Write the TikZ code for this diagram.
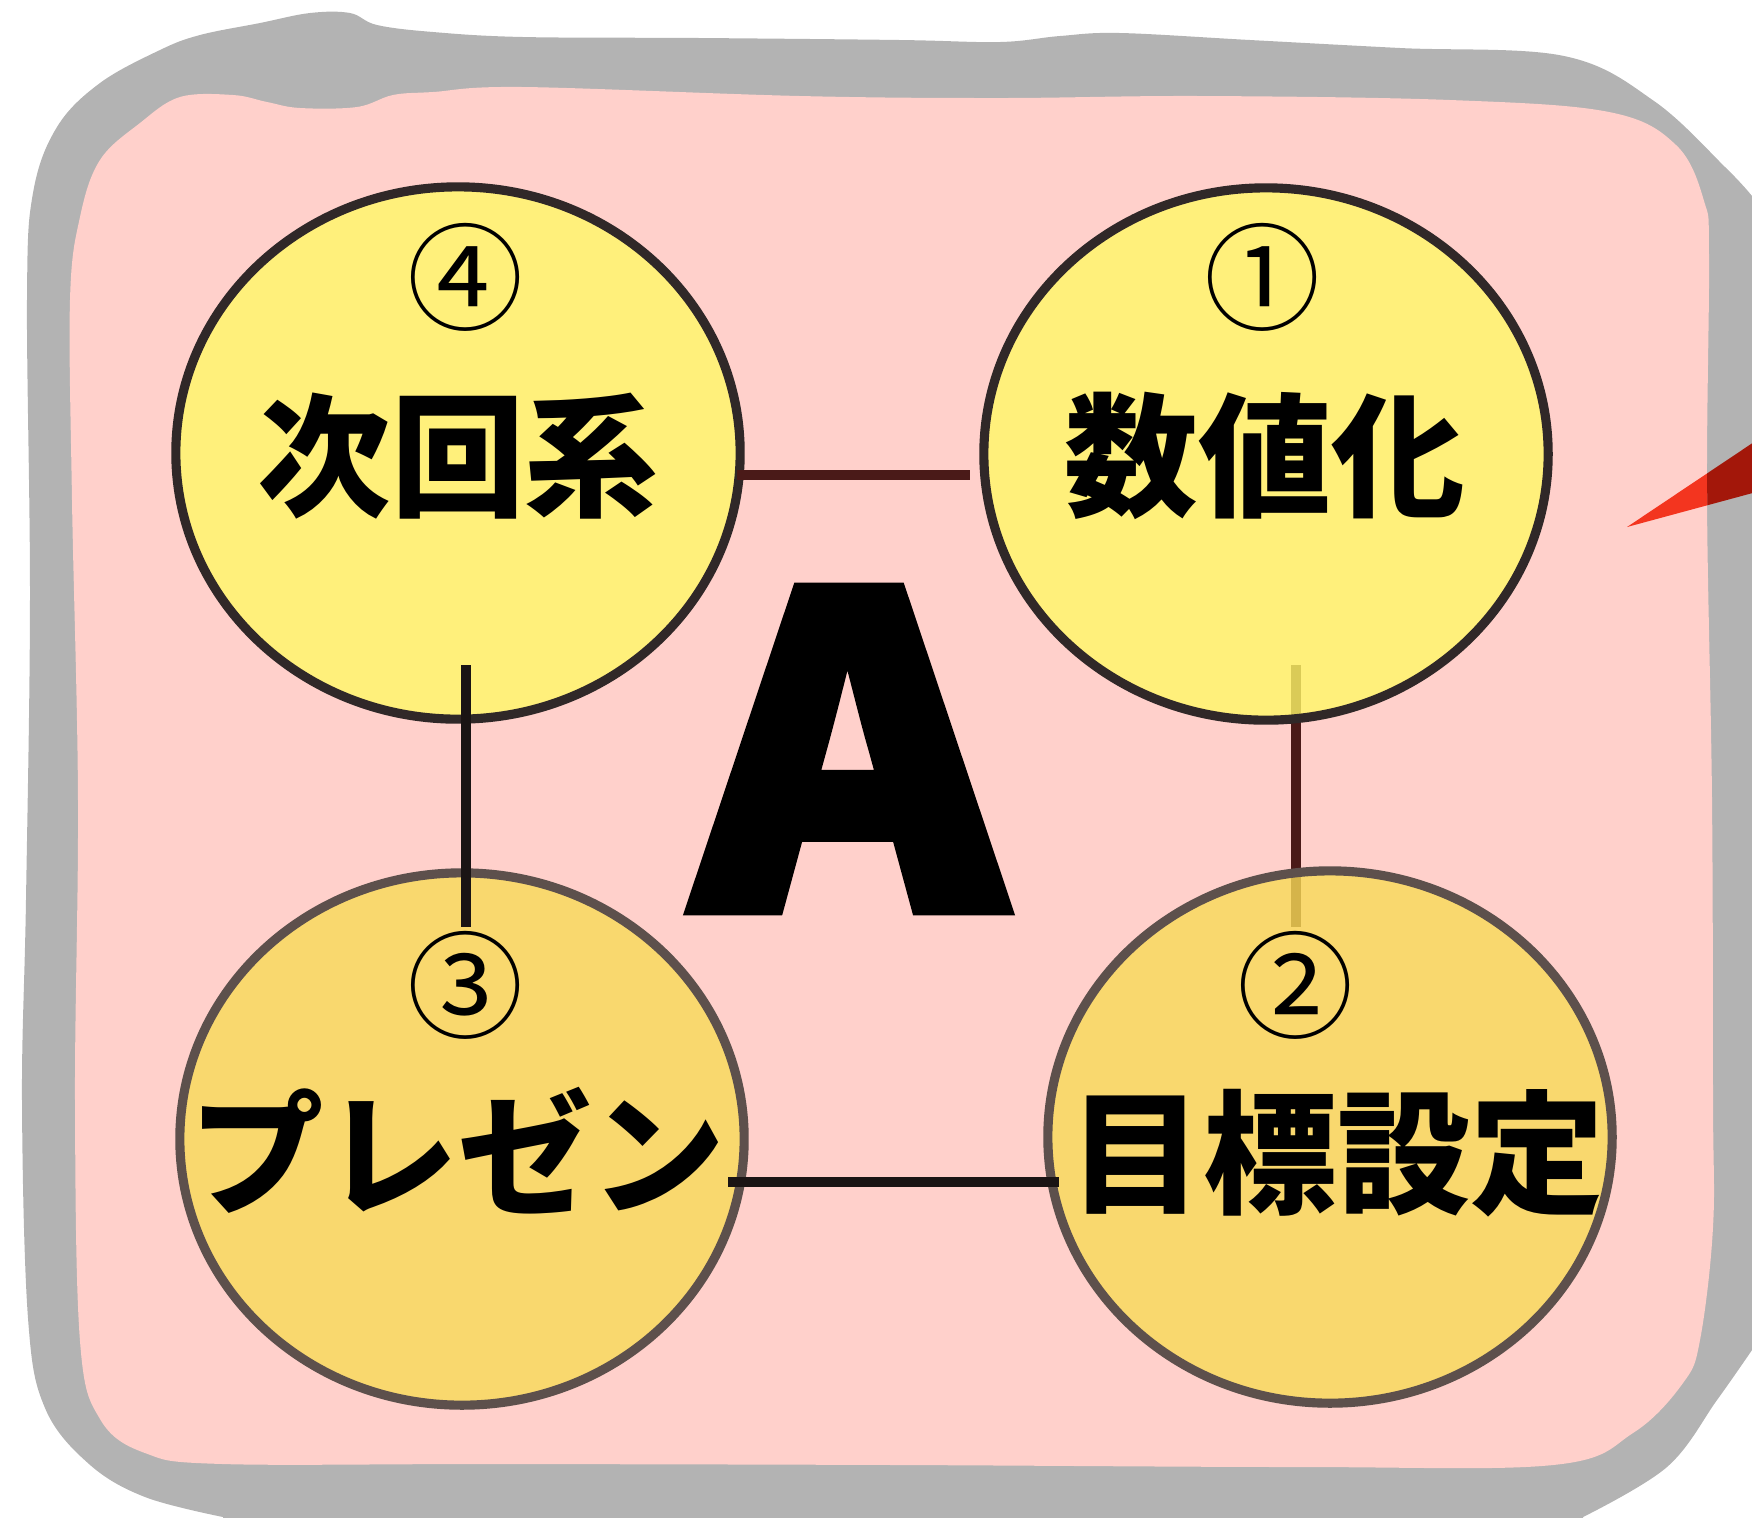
\documentclass[tikz,border=0pt]{standalone}
\usepackage{fontspec}
\usetikzlibrary{shapes.geometric}
\newfontfamily\jp{Noto Sans CJK JP}
\newfontfamily\jpA{Noto Sans CJK JP}[BoldFeatures={FakeBold=3}]
\definecolor{frame}{HTML}{B3B3B3}
\definecolor{bg}{HTML}{FFD0CB}
\definecolor{ytop}{RGB}{255,248,103}
\definecolor{ybot}{RGB}{248,219,87}
\definecolor{otop}{HTML}{302828}
\definecolor{obot}{HTML}{5D504C}
\definecolor{lbrown}{HTML}{4A1A18}
\definecolor{lblack}{HTML}{1A1414}
\definecolor{redA}{HTML}{F3351F}
\definecolor{redB}{HTML}{A3170A}
\tikzset{
  bubble/.style={ellipse, minimum width=5.64cm, minimum height=5.32cm, inner sep=0pt,
    line width=2.6pt, fill opacity=0.8, draw opacity=1},
  topbubble/.style={bubble, fill=ytop, draw=otop},
  botbubble/.style={bubble, fill=ybot, draw=obot},
  conn/.style={line width=2.9pt},
  num/.style={font=\jp\fontsize{33}{33}\selectfont, inner sep=0pt},
  word/.style={font=\jp\bfseries\fontsize{38}{38}\selectfont, inner sep=0pt},
}
\begin{document}
\begin{tikzpicture}[x=0.01cm,y=-0.01cm]
\useasboundingbox (0,0) rectangle (1752,1517);
% frame
\fill[frame] plot[smooth, tension=0.6] coordinates {
 (223,1517) (145,1497) (89,1464) (45,1408) (28,1318) (22,1100) (26,900) (30,600) (27,300) (33,193) (57,127) (100,83) (160,50) (200,35) (260,23) (310,13) (350,13) (377,25) (433,32) (523,37) (700,38) (900,40) (1000,42) (1060,36) (1120,33) (1250,40) (1400,48) (1564,56) (1654,101) (1726,168) (1752,196)}
 -- (1760,196) -- (1760,1345)
 -- plot[smooth, tension=0.6] coordinates {(1752,1350) (1717,1400) (1667,1467) (1583,1517)}
 -- (1583,1525) -- (223,1525) -- cycle;
% red pointer (part over frame)
\fill[redB] (1627,527) -- (1760,438) -- (1760,491) -- cycle;
% pink area
\def\pinkpath{plot[smooth cycle, tension=0.6] coordinates {
 (70,300) (80,217) (100,160) (140,123) (180,97) (233,95) (267,102) (300,108) (357,107) (393,95) (433,92) (523,87) (800,96) (1000,98) (1200,96) (1450,100) (1609,112) (1676,145) (1704,201) (1709,257) (1707,500) (1712,800) (1713,1100) (1713,1227) (1700,1340) (1683,1383) (1633,1433) (1553,1465) (1300,1467) (900,1465) (500,1464) (223,1464) (145,1453) (100,1419) (80,1341) (75,1100) (78,800) (72,500)}}
\fill[bg] \pinkpath;
\begin{scope}
\clip \pinkpath;
\fill[redA] (1627,527) -- (1760,438) -- (1760,491) -- cycle;
\end{scope}
% connector under the bubbles
\coordinate (r1) at (1296,665);
\coordinate (r2) at (1296,927);
\draw[conn, lbrown] (r1) -- (r2);
% bubbles
\node[topbubble] (c4) at (458,453) {};
\node[topbubble] (c1) at (1266,454) {};
\node[botbubble] (c3) at (462,1139) {};
\node[botbubble] (c2) at (1330,1137) {};
% connectors on top
\coordinate (t1) at (737,475);
\coordinate (t2) at (970,475);
\draw[conn, lbrown] (t1) -- (t2);
\coordinate (l1) at (466,665);
\coordinate (l2) at (466,927);
\draw[conn, lblack] (l1) -- (l2);
\coordinate (b1) at (728,1182);
\coordinate (b2) at (1059,1182);
\draw[conn, lblack] (b1) -- (b2);
% labels
\node[num] (n4) at (466,277) {④};
\node[word] (w4) at (458,456) {次回系};
\node[num] (n1) at (1263,277) {①};
\node[word] (w1) at (1265,456) {数値化};
\node[num] (n3) at (466,985) {③};
\node[word] (w3) at (458,1151) {プレゼン};
\node[num] (n2) at (1296,985) {②};
\node[word] (w2) at (1337,1153) {目標設定};
\node[font=\jpA\bfseries\fontsize{122}{122}\selectfont, inner sep=0pt, xscale=1.08] (A) at (849,749) {A};
\end{tikzpicture}
\end{document}
